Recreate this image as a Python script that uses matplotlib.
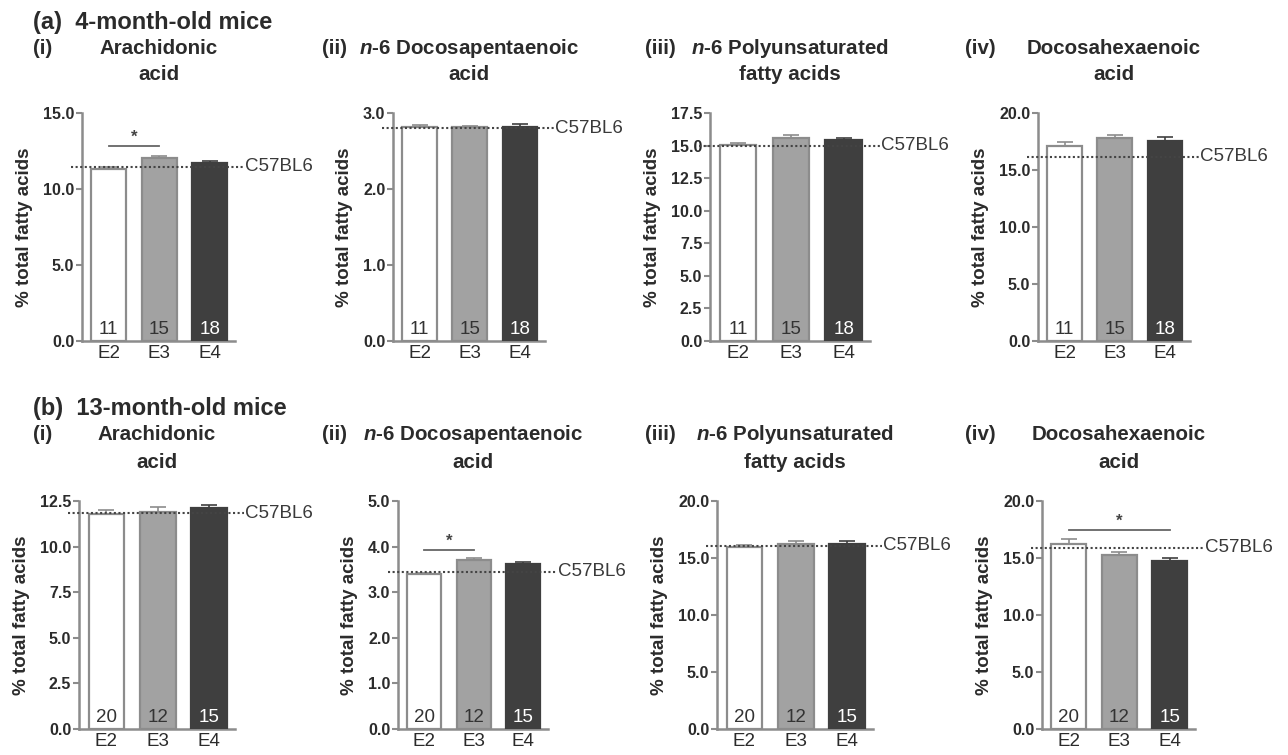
import numpy as np
import matplotlib
matplotlib.use("Agg")
import matplotlib.pyplot as plt
from matplotlib.transforms import blended_transform_factory

plt.rcParams["font.family"] = ["Liberation Sans", "DejaVu Sans"]
plt.rcParams["mathtext.fontset"] = "custom"
plt.rcParams["mathtext.it"] = "Liberation Sans:italic:bold"
plt.rcParams["mathtext.rm"] = "Liberation Sans:bold"

# datos
groups = ["E2", "E3", "E4"]
title_l1 = ["Arachidonic", "$\\mathit{n}$-6 Docosapentaenoic", "$\\mathit{n}$-6 Polyunsaturated", "Docosahexaenoic"]
title_l2 = ["acid", "acid", "fatty acids", "acid"]
panel_tags = ["(i)", "(ii)", "(iii)", "(iv)"]

# (a) 4 meses
n_4mo = [11, 15, 18]
mean_4mo = [[11.3, 12.05, 11.7], [2.81, 2.81, 2.81], [15.05, 15.58, 15.4], [17.07, 17.77, 17.56]]
sem_4mo = [[0.12, 0.15, 0.15], [0.03, 0.02, 0.05], [0.15, 0.2, 0.2], [0.4, 0.3, 0.3]]
c57_4mo = [11.45, 2.80, 15.0, 16.15]
ymax_4mo = [15.0, 3.0, 17.5, 20.0]
ystep_4mo = [5.0, 1.0, 2.5, 5.0]
sig_4mo = {0: (0, 1, 12.8)}

# (b) 13 meses
n_13mo = [20, 12, 15]
mean_13mo = [[11.78, 11.9, 12.09], [3.39, 3.70, 3.61], [16.0, 16.2, 16.25], [16.2, 15.26, 14.74]]
sem_13mo = [[0.25, 0.28, 0.18], [0.03, 0.06, 0.05], [0.15, 0.3, 0.2], [0.5, 0.3, 0.3]]
c57_13mo = [11.82, 3.45, 16.07, 15.9]
ymax_13mo = [12.5, 5.0, 20.0, 20.0]
ystep_13mo = [2.5, 1.0, 5.0, 5.0]
sig_13mo = {1: (0, 1, 3.93), 3: (0, 2, 17.45)}

# posiciones en pixeles (figura 1288x755)
W, H = 1288, 755
left_a = [82, 393, 710, 1038]
right_a = [235, 545, 870, 1190]
left_b = [79, 398, 717, 1042]
right_b = [235, 548, 873, 1195]
tag_x = [33, 322, 645, 965]

fills = ["white", "#a2a2a2", "#3f3f3f"]
edges = ["#8c8c8c", "#8c8c8c", "#3f3f3f"]
num_colors = ["#333333", "#333333", "white"]
gray = "#8c8c8c"
txt = "#2b2b2b"

fig = plt.figure(figsize=(12.88, 7.55), dpi=100)


def draw_row(lefts, rights, y_bot, y_top, means, sems, c57, ymaxs, ysteps, ns, sigs, header, y_header, y_t1, y_t2):
    fig.text(33 / W, 1 - y_header / H, header, fontsize=17, fontweight="bold", color=txt, va="center", ha="left")
    for k in range(4):
        ax = fig.add_axes([lefts[k] / W, 1 - y_bot / H, (rights[k] - lefts[k]) / W, (y_bot - y_top) / H])
        x = np.arange(3)
        ax.bar(x, means[k], width=0.69, color=fills, edgecolor=edges, linewidth=1.6, zorder=3)
        for i in range(3):
            ax.errorbar(x[i], means[k][i], yerr=[[0], [sems[k][i]]], color=edges[i], capsize=5.5,
                        elinewidth=1.2, capthick=1.2, zorder=2)
            ax.annotate(str(ns[i]), xy=(x[i], 0), xytext=(0, 2), textcoords="offset points",
                        ha="center", va="bottom", fontsize=13.5, color=num_colors[i], zorder=5)
        ax.set_xlim(-0.53, 2.5)
        ax.set_ylim(0, ymaxs[k])
        ax.set_yticks(np.arange(0, ymaxs[k] + 1e-6, ysteps[k]))
        ax.set_yticklabels([f"{v:.1f}" for v in ax.get_yticks()], fontweight="bold", fontsize=11.5, color=txt)
        ax.set_xticks(x)
        ax.set_xticklabels(groups, fontsize=13.5, color=txt)
        ax.tick_params(axis="x", length=0, pad=3)
        ax.tick_params(axis="y", length=4, width=1.5, color=gray, pad=1.5)
        for s in ["top", "right"]:
            ax.spines[s].set_visible(False)
        for s in ["left", "bottom"]:
            ax.spines[s].set_color(gray)
            ax.spines[s].set_linewidth(1.8)
        ax.set_ylabel("% total fatty acids", fontsize=13.5, fontweight="bold", color=txt, labelpad=7)
        # linea de referencia C57BL6
        ax.plot([-0.74, 2.68], [c57[k], c57[k]], ls=(0, (1, 1.2)), color="#444444", lw=1.5, clip_on=False, zorder=4)
        ax.text(2.7, c57[k], "C57BL6", fontsize=13.5, color="#3a3a3a", va="center", ha="left", clip_on=False)
        if k in sigs:
            i, j, ys = sigs[k]
            ax.plot([x[i], x[j]], [ys, ys], color="#666666", lw=1.3, zorder=4)
            ax.annotate("*", xy=((x[i] + x[j]) / 2, ys), xytext=(0, 1), textcoords="offset points",
                        ha="center", va="bottom", fontsize=12, fontweight="bold", color="#444444")
        # titulos
        tr = blended_transform_factory(ax.transAxes, fig.transFigure)
        ax.text(0.5, 1 - y_t1 / H, title_l1[k], transform=tr, ha="center", va="center",
                fontsize=14.8, fontweight="bold", color=txt)
        ax.text(0.5, 1 - y_t2 / H, title_l2[k], transform=tr, ha="center", va="center",
                fontsize=14.8, fontweight="bold", color=txt)
        fig.text(tag_x[k] / W, 1 - y_t1 / H, panel_tags[k], fontsize=14.8, fontweight="bold",
                 color=txt, ha="left", va="center")


draw_row(left_a, right_a, 341, 113, mean_4mo, sem_4mo, c57_4mo, ymax_4mo, ystep_4mo, n_4mo, sig_4mo,
         "(a)  4-month-old mice", 23, 48, 75)
draw_row(left_b, right_b, 729, 501, mean_13mo, sem_13mo, c57_13mo, ymax_13mo, ystep_13mo, n_13mo, sig_13mo,
         "(b)  13-month-old mice", 408, 435, 462)

fig.savefig("out.png", dpi=100)
